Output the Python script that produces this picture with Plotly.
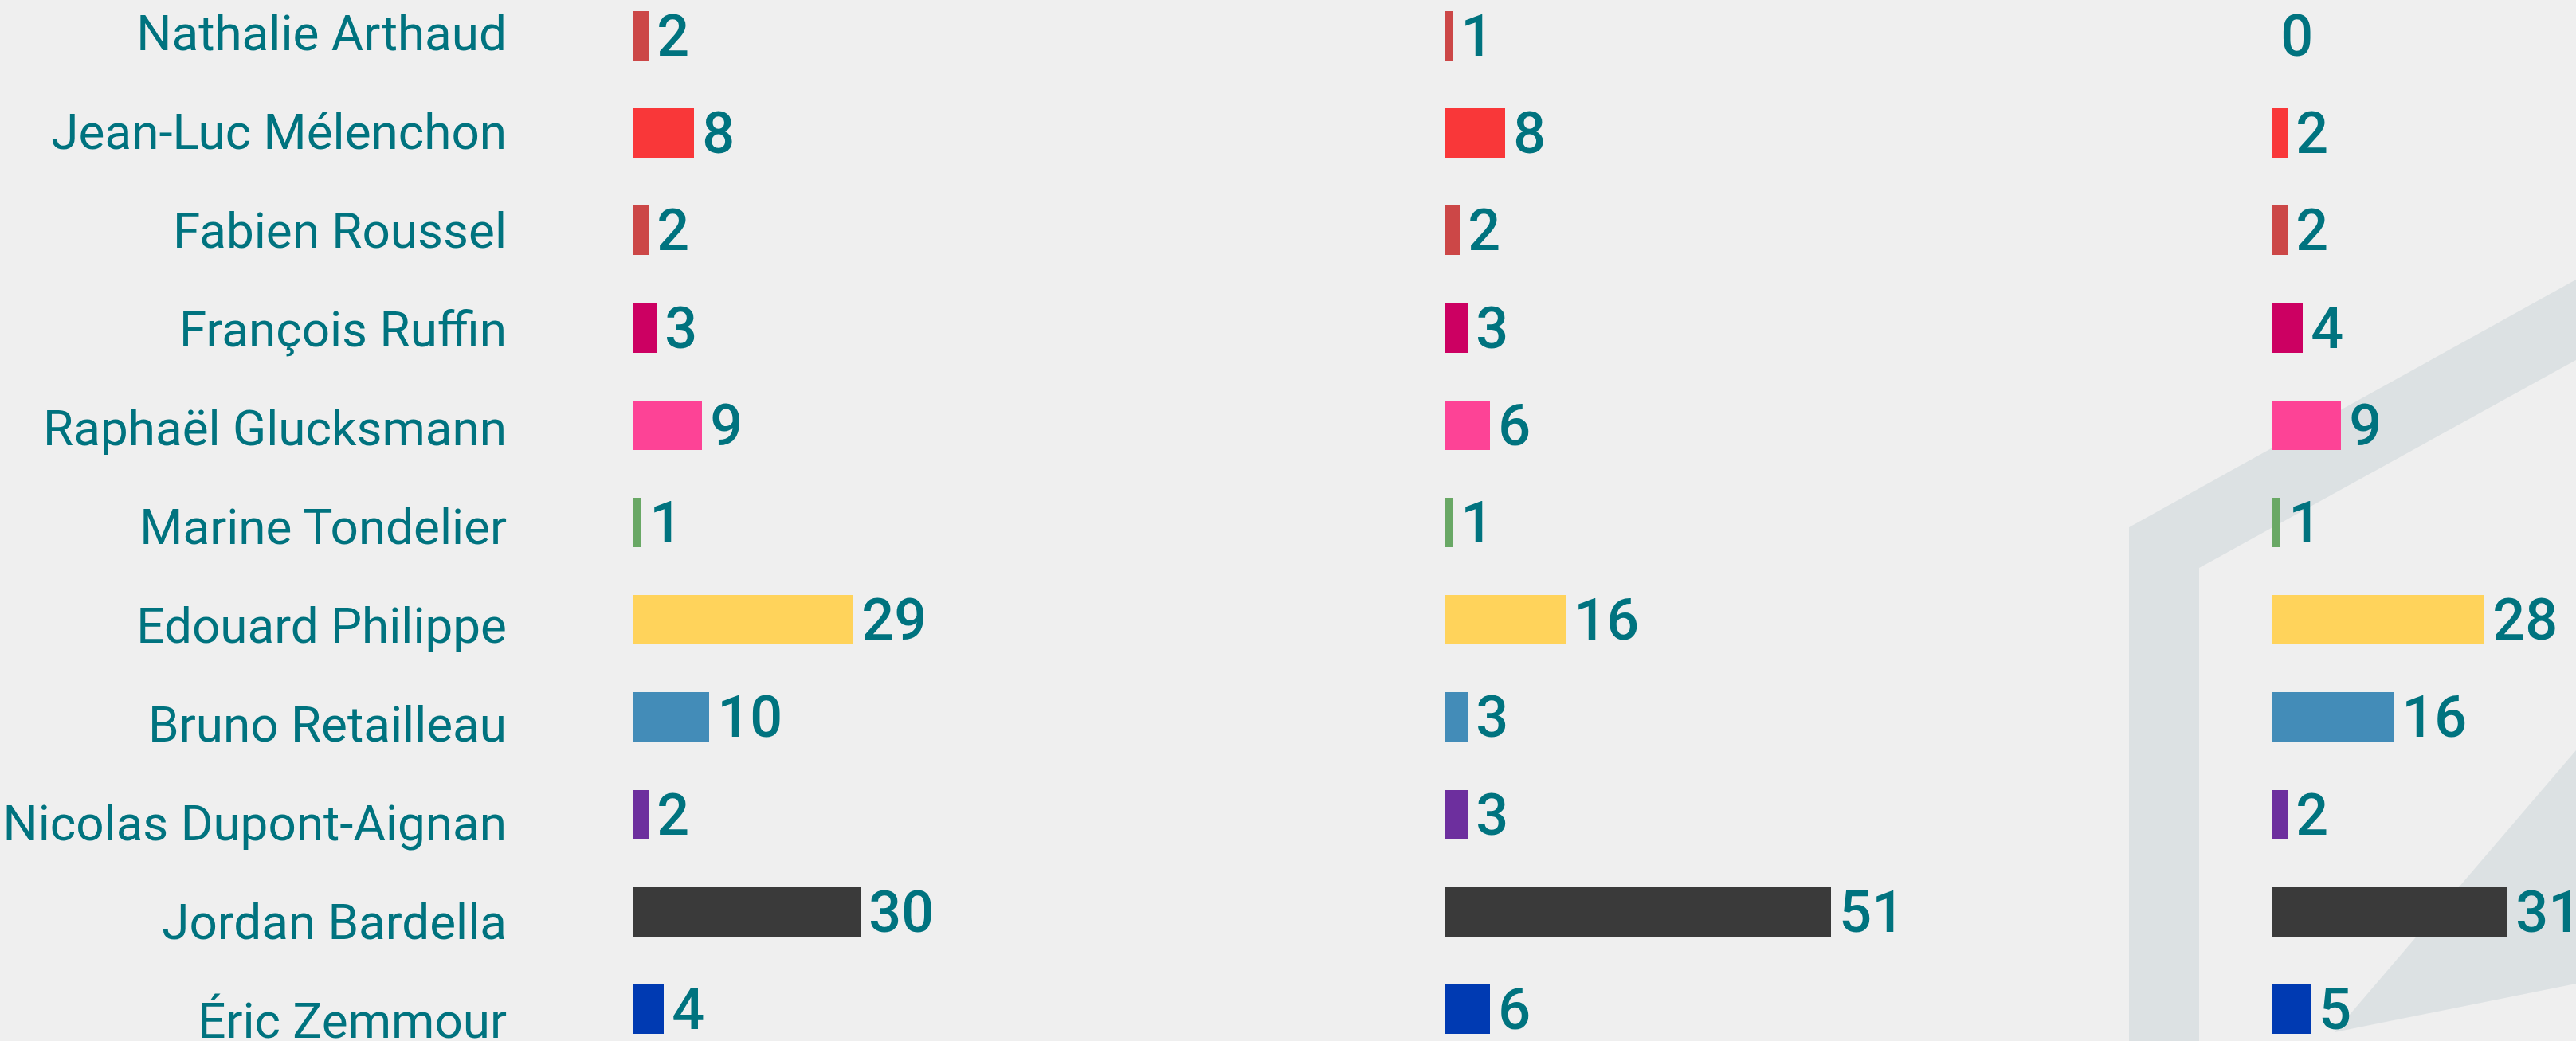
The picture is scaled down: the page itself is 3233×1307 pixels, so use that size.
import plotly.graph_objects as go

# Candidates, top to bottom
candidates = [
    "Nathalie Arthaud",
    "Jean-Luc Mélenchon",
    "Fabien Roussel",
    "François Ruffin",
    "Raphaël Glucksmann",
    "Marine Tondelier",
    "Edouard Philippe",
    "Bruno Retailleau",
    "Nicolas Dupont-Aignan",
    "Jordan Bardella",
    "Éric Zemmour",
]

# Scores for each of the three panels
panel_1 = [2, 8, 2, 3, 9, 1, 29, 10, 2, 30, 4]
panel_2 = [1, 8, 2, 3, 6, 1, 16, 3, 3, 51, 6]
panel_3 = [0, 2, 2, 4, 9, 1, 28, 16, 2, 31, 5]

# Party colours, one per candidate
bar_colors = [
    "#cc4747", "#f93739", "#cc4747", "#cc0062", "#fd4396", "#69a865",
    "#ffd35b", "#438cb8", "#6d2f9e", "#3a3a3a", "#003ab2",
]

W, H = 3233, 1307
BG = "#efefef"
TEAL = "#00737f"
WATERMARK = "#dce1e3"

# Horizontal layout of the three panels (pixels) and a common scale
panel_left = [795, 1813, 2852]
px_per_unit = 9.51

fig = go.Figure()

for i, (vals, left) in enumerate(zip([panel_1, panel_2, panel_3], panel_left)):
    suffix = "" if i == 0 else str(i + 1)
    fig.add_trace(go.Bar(
        x=vals,
        y=candidates,
        orientation="h",
        marker=dict(color=bar_colors, line=dict(width=0)),
        width=0.507,
        text=["\u200a" + str(v) for v in vals],
        textposition="outside",
        textfont=dict(family="Roboto", size=72, color=TEAL, weight=500),
        constraintext="none",
        cliponaxis=False,
        xaxis="x" + suffix,
        yaxis="y" + suffix,
        showlegend=False,
        hoverinfo="skip",
    ))

# Invisible carrier for the candidate-name column
fig.add_trace(go.Scatter(
    x=[0] * len(candidates),
    y=list(range(len(candidates))),
    mode="markers",
    marker=dict(opacity=0, size=1),
    xaxis="x",
    yaxis="y4",
    showlegend=False,
    hoverinfo="skip",
))

layout = dict(
    width=W,
    height=H,
    margin=dict(l=0, r=0, t=0, b=0, pad=0, autoexpand=False),
    paper_bgcolor=BG,
    plot_bgcolor="rgba(0,0,0,0)",
    bargap=0,
    font=dict(family="Roboto", color=TEAL),
)

y_range = [10.328, -0.368]
for i, left in enumerate(panel_left):
    suffix = "" if i == 0 else str(i + 1)
    right = min(W, left + 600)
    layout["xaxis" + suffix] = dict(
        domain=[left / W, right / W],
        range=[0, (right - left) / px_per_unit],
        visible=False,
        anchor="y" + suffix,
        automargin=False,
        fixedrange=True,
    )
    layout["yaxis" + suffix] = dict(
        domain=[0, 1],
        type="category",
        categoryorder="array",
        categoryarray=candidates,
        range=y_range,
        anchor="x" + suffix,
        showgrid=False,
        zeroline=False,
        showline=False,
        ticks="",
        showticklabels=False,
        automargin=False,
        fixedrange=True,
    )

# Name column: its own axis so the labels keep their own row pitch
layout["yaxis4"] = dict(
    domain=[0, 1],
    overlaying="y",
    anchor="x",
    side="left",
    range=[10.210, -0.3306],
    tickmode="array",
    tickvals=list(range(len(candidates))),
    ticktext=candidates,
    showgrid=False,
    zeroline=False,
    showline=False,
    ticks="",
    tickfont=dict(family="Roboto", size=62, color=TEAL),
    ticklabelstandoff=158,
    ticklabeloverflow="allow",
    automargin=False,
    fixedrange=True,
)

fig.update_layout(**layout)

# Background logo watermark drawn behind the bars
def px(x, y):
    return f"{x / W:.5f},{1 - y / H:.5f}"

band_path = (
    f"M {px(2672, 1307)} L {px(2672, 662)} L {px(3233, 351)} "
    f"L {px(3233, 452)} L {px(2760, 713)} L {px(2760, 1307)} Z"
)
wedge_path = f"M {px(2930, 1296)} L {px(3233, 942)} L {px(3233, 1235)} Z"

for path in (band_path, wedge_path):
    fig.add_shape(
        type="path",
        path=path,
        xref="paper",
        yref="paper",
        fillcolor=WATERMARK,
        line=dict(width=0),
        layer="below",
    )

fig.write_html("out.html")
